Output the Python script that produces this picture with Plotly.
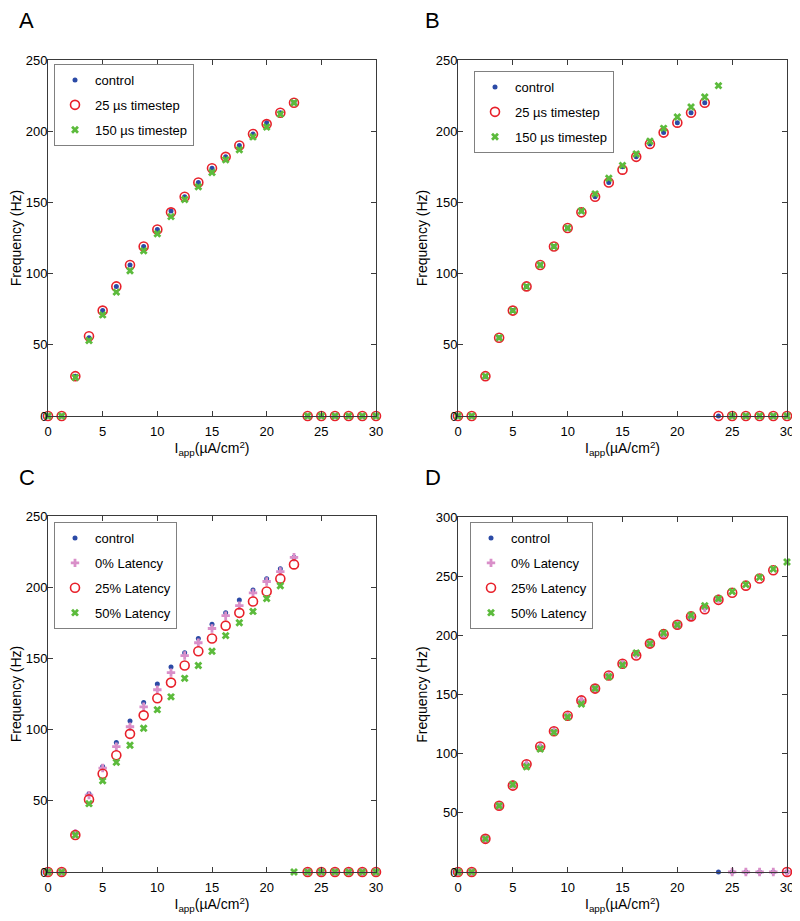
import plotly.graph_objects as go

I_app = [0, 1.25, 2.5, 3.75, 5, 6.25, 7.5, 8.75, 10, 11.25, 12.5, 13.75, 15,
         16.25, 17.5, 18.75, 20, 21.25, 22.5, 23.75, 25, 26.25, 27.5, 28.75, 30]

# Panel A
A_control = [0, 0, 28, 55, 74, 91, 106, 119, 131, 144, 154, 164, 174, 182, 190, 198, 206, 213, 220, 0, 0, 0, 0, 0, 0]
A_ts25 = [0, 0, 28, 56, 74, 91, 106, 119, 131, 143, 154, 164, 174, 182, 190, 198, 205, 213, 220, 0, 0, 0, 0, 0, 0]
A_ts150 = [0, 0, 27, 53, 71, 87, 102, 116, 128, 140, 152, 161, 171, 180, 187, 196, 203, 212, 220, 0, 0, 0, 0, 0, 0]

# Panel B
B_control = [0, 0, 28, 55, 74, 91, 106, 119, 132, 144, 154, 164, 175, 182, 191, 199, 206, 213, 220, 0, 0, 0, 0, 0, 0]
B_ts25 = [0, 0, 28, 55, 74, 91, 106, 119, 132, 143, 154, 164, 173, 182, 191, 199, 206, 213, 220, 0, 0, 0, 0, 0, 0]
B_ts150 = [0, 0, 28, 55, 74, 91, 106, 119, 132, 144, 156, 167, 176, 184, 193, 202, 210, 217, 224, 232, 0, 0, 0, 0, 0]

# Panel C
C_control = [0, 0, 28, 55, 74, 91, 106, 119, 132, 144, 154, 164, 174, 182, 191, 198, 206, 213, 221, 0, 0, 0, 0, 0, 0]
C_lat0 = [0, 0, 27, 54, 73, 88, 102, 116, 128, 140, 152, 161, 171, 180, 187, 196, 204, 211, 221, 0, 0, 0, 0, 0, 0]
C_lat25 = [0, 0, 26, 51, 69, 82, 97, 110, 122, 133, 145, 155, 164, 173, 182, 190, 197, 206, 216, 0, 0, 0, 0, 0, 0]
C_lat50 = [0, 0, 26, 48, 64, 77, 89, 101, 114, 123, 136, 145, 155, 166, 175, 183, 192, 201, 0, 0, 0, 0, 0, 0, 0]

# Panel D
D_control = [0, 0, 28, 56, 74, 91, 106, 119, 132, 145, 155, 166, 176, 184, 193, 200, 207, 214, 223, 0, 0, 0, 0, 0, 0]
D_lat0 = [0, 0, 28, 56, 74, 91, 106, 119, 132, 145, 155, 166, 176, 184, 193, 201, 209, 216, 223, 231, 0, 0, 0, 0, 0]
D_lat25 = [0, 0, 28, 56, 73, 91, 106, 119, 132, 145, 155, 166, 176, 183, 193, 201, 209, 216, 222, 230, 236, 242, 248, 255, 0]
D_lat50 = [0, 0, 28, 56, 74, 89, 104, 118, 131, 142, 155, 165, 175, 185, 193, 202, 209, 217, 225, 231, 237, 243, 249, 256, 262]

x_ticks = [0, 5, 10, 15, 20, 25, 30]
y_ticks_250 = [0, 50, 100, 150, 200, 250]
y_ticks_300 = [0, 50, 100, 150, 200, 250, 300]

FONT = "Liberation Sans, Arial, sans-serif"
BLUE = "#2b4aa6"
RED = "#e8202a"
GREEN = "#5cbb3c"
PINK = "#d98fc9"

W, H = 800, 921
OFF = 8  # page body margin

def px_x(p):
    return (p - OFF) / W

def px_y(p):
    return 1 - (p - OFF) / H

panels = {
    "A": dict(x=(48, 376), y=(60, 416), ymax=250, yt=y_ticks_250, leg=(54, 64), lab=(17, 6)),
    "B": dict(x=(458, 787), y=(60, 416), ymax=250, yt=y_ticks_250, leg=(474, 71), lab=(423, 6)),
    "C": dict(x=(48, 376), y=(516, 872), ymax=250, yt=y_ticks_250, leg=(54, 522), lab=(17, 463)),
    "D": dict(x=(458, 787), y=(517, 872), ymax=300, yt=y_ticks_300, leg=(470, 522), lab=(423, 463)),
}

series = {
    "A": [("control", A_control, "dot"), ("25 µs timestep", A_ts25, "ring"), ("150 µs timestep", A_ts150, "x")],
    "B": [("control", B_control, "dot"), ("25 µs timestep", B_ts25, "ring"), ("150 µs timestep", B_ts150, "x")],
    "C": [("control", C_control, "dot"), ("0% Latency", C_lat0, "plus"), ("25% Latency", C_lat25, "ring"), ("50% Latency", C_lat50, "x")],
    "D": [("control", D_control, "dot"), ("0% Latency", D_lat0, "plus"), ("25% Latency", D_lat25, "ring"), ("50% Latency", D_lat50, "x")],
}

def marker(kind):
    if kind == "dot":
        return dict(symbol="circle", size=5, color=BLUE)
    if kind == "ring":
        return dict(symbol="circle-open", size=9, color=RED, line=dict(width=1.6, color=RED))
    if kind == "x":
        return dict(symbol="x", size=7, color=GREEN, line=dict(width=0))
    if kind == "plus":
        return dict(symbol="cross", size=7, color=PINK, line=dict(width=0))

fig = go.Figure()
layout = dict(
    width=W, height=H, margin=dict(l=0, r=0, t=0, b=0, autoexpand=False),
    paper_bgcolor="white", plot_bgcolor="white",
    font=dict(family=FONT, size=13, color="black"),
    annotations=[],
)

for i, name in enumerate(["A", "B", "C", "D"]):
    p = panels[name]
    idx = "" if i == 0 else str(i + 1)
    legname = "legend" if i == 0 else f"legend{i + 1}"
    for j, (label, vals, kind) in enumerate(series[name]):
        fig.add_trace(go.Scatter(
            x=I_app, y=vals, mode="markers", name=label, marker=marker(kind),
            xaxis=f"x{idx}", yaxis=f"y{idx}", legend=legname, cliponaxis=False,
            legendgroup=f"{name}{j}",
        ))
    axis_common = dict(
        showline=True, linecolor="#3a3a3a", linewidth=1, mirror="ticks",
        ticks="inside", ticklen=5, tickcolor="#3a3a3a", showgrid=False, zeroline=False,
        tickfont=dict(size=13, color="black"), automargin=False,
    )
    layout[f"xaxis{idx}"] = dict(
        domain=[px_x(p["x"][0]), px_x(p["x"][1])], anchor=f"y{idx}",
        range=[0, 30], tickvals=x_ticks, ticktext=[str(v) for v in x_ticks],
        ticklabelstandoff=3,
        title=dict(text="I<sub>app</sub>(µA/cm<sup>2</sup>)", standoff=4, font=dict(size=14)),
        **axis_common,
    )
    layout[f"yaxis{idx}"] = dict(
        domain=[px_y(p["y"][1]), px_y(p["y"][0])], anchor=f"x{idx}",
        range=[0, p["ymax"]], tickvals=p["yt"], ticktext=[str(v) for v in p["yt"]],
        ticklabelstandoff=-3,
        title=dict(text="Frequency (Hz)", standoff=4, font=dict(size=14)),
        **axis_common,
    )
    layout[legname] = dict(
        x=px_x(p["leg"][0]), y=px_y(p["leg"][1]), xanchor="left", yanchor="top",
        bgcolor="white", bordercolor="#808080", borderwidth=1,
        font=dict(size=13, color="black"), tracegroupgap=5,
    )
    layout["annotations"].append(dict(
        text=name, x=px_x(p["lab"][0]), y=px_y(p["lab"][1]), xref="paper", yref="paper",
        xanchor="left", yanchor="top", showarrow=False, font=dict(size=22, color="black"),
    ))

fig.update_layout(**layout)
fig.write_html("out.html")
